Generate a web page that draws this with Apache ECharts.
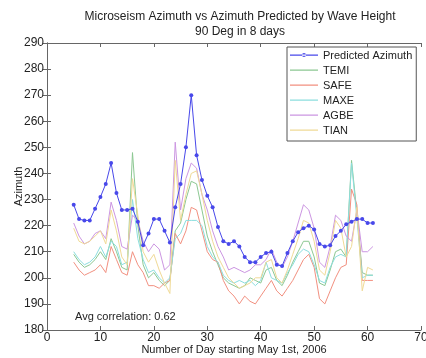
<!DOCTYPE html>
<html>
<head>
<meta charset="utf-8">
<script src="https://cdn.jsdelivr.net/npm/echarts@6/dist/echarts.min.js"></script>
<style>
	html, body {margin: 0; padding: 0; background: #fff;}
	#chart {width: 426px; height: 358px;}
</style>
</head>
<body>
<div id="chart"></div>
<script>
// days 5..61
const days = [];
for (let d = 5; d <= 61; d++) days.push(d);

const predicted = [228, 222.5, 222, 222, 226.5, 231, 236, 244, 232.5, 226, 226, 226.5, 221.5, 212.5, 217, 222.5, 222.5, 218, 213.5, 227,
	236, 250, 270, 247, 237.5, 231.5, 227, 219.5, 214, 213, 214, 212, 208, 206, 206, 208, 209.5, 210, 205, 204.5,
	209.5, 214, 217.5, 219, 220, 218.5, 213, 212, 212.5, 216, 218, 220.5, 221.5, 222.5, 222.5, 221, 221];

const temi = [209, 206, 204, 205, 207, 210, 207, 215, 210, 204, 203, 248, 220, 205, 200, 202, 199, 197, 199, 218,
	221, 230, 237, 236, 226, 216, 210, 205, 200, 198, 197, 196, 197, 200, 199, 198, 203, 204, 199, 197,
	201, 206, 210, 214, 214, 208, 198, 197, 203, 210, 211, 208, 245, 225, 202, 201, 201];

const safe = [206, 203, 201, 202, 203, 205, 202, 212, 207, 202, 201, 210, 205, 202, 197, 197, 196, 198, 199, 217,
	213, 218, 227, 226, 218, 210, 207, 206, 199, 195, 193, 190, 193, 191, 190, 193, 196, 199, 195, 193,
	196, 199, 203, 207, 209, 204, 192, 190, 195, 200, 204, 205, 234, 228, 199, 199, 199];

const maxe = [210, 207, 205, 206, 208, 212, 208, 214, 212, 205, 206, 230, 215, 207, 202, 203, 200, 198, 200, 215,
	217, 222, 222, 222, 220, 212, 208, 206, 201, 199, 198, 199, 198, 199, 197, 199, 206, 200, 199, 198,
	202, 205, 209, 211, 210, 205, 199, 198, 204, 208, 209, 208, 244, 223, 200, 201, 201];

const agbe = [221, 216, 213, 214, 217, 218, 215, 229, 222, 212, 211, 224, 222, 214, 210, 213, 211, 203, 205, 252,
	226, 238, 244, 242, 232, 226, 218, 212, 208, 203, 204, 203, 202, 203, 205, 205, 207, 211, 206, 204,
	208, 214, 221, 228, 226, 219, 206, 204, 212, 224, 222, 216, 214, 226, 210, 210, 212];

const tian = [219, 214, 213, 214, 216, 218, 213, 226, 218, 208, 205, 238, 224, 210, 206, 209, 203, 198, 194, 245,
	222, 232, 240, 241, 232, 222, 214, 208, 204, 200, 198, 196, 197, 198, 200, 200, 206, 207, 200, 198,
	203, 209, 215, 222, 221, 214, 203, 201, 210, 222, 219, 208, 212, 227, 195, 204, 203];

const stations = [
	{name: 'TEMI', data: temi, color: '#8cc892'},
	{name: 'SAFE', data: safe, color: '#f29080'},
	{name: 'MAXE', data: maxe, color: '#8cdede'},
	{name: 'AGBE', data: agbe, color: '#cc96e2'},
	{name: 'TIAN', data: tian, color: '#f0da96'},
];

const font = 'Liberation Sans, Arial, sans-serif';
const axisLine = {show: true, lineStyle: {color: '#666', width: 1}};
const tick = {show: true, inside: true, length: 4, lineStyle: {color: '#666'}};

// thin legend line; the tiny bar at x=0 keeps the box 28x10 so the line is not stretched
const lineIcon = 'path://M0,4 H28 V5.2 H0 Z M0,0 H0.02 V10 H0 Z';
const dotIcon = 'path://M0,4 H28 V5.2 H0 Z M12,4.6 A2,2 0 1,0 16,4.6 A2,2 0 1,0 12,4.6 Z M0,0 H0.02 V10 H0 Z';

const chart = echarts.init(document.getElementById('chart'));

const series = [
	{
		name: 'Predicted Azimuth',
		type: 'line',
		data: days.map((d, i) => [d, predicted[i]]),
		color: '#4848ea',
		lineStyle: {width: 1},
		symbol: 'circle',
		symbolSize: 4,
		z: 10,
	},
	...stations.map(s => ({
		name: s.name,
		type: 'line',
		data: days.map((d, i) => [d, s.data[i]]),
		color: s.color,
		lineStyle: {width: 1},
		symbol: 'none',
	})),
];

chart.setOption({
	backgroundColor: '#fff',
	animation: false,
	textStyle: {fontFamily: font},
	title: {
		text: 'Microseism Azimuth vs Azimuth Predicted by Wave Height\n90 Deg in 8 days',
		left: 235,
		textAlign: 'center',
		top: 4,
		textStyle: {fontSize: 12, fontWeight: 'normal', color: '#222', lineHeight: 15, fontFamily: font},
	},
	legend: {
		orient: 'vertical',
		left: 287,
		top: 47,
		padding: [3, 4, 5, 3],
		itemGap: 4,
		itemWidth: 28,
		itemHeight: 10,
		backgroundColor: '#fff',
		borderColor: '#555',
		borderWidth: 1,
		borderRadius: 0,
		textStyle: {fontSize: 11, color: '#222', fontFamily: font},
		data: [
			{name: 'Predicted Azimuth', icon: dotIcon},
			...stations.map(s => ({name: s.name, icon: lineIcon})),
		],
	},
	grid: {left: 47, right: 5, top: 43, bottom: 28, outerBoundsMode: 'none'},
	xAxis: [
		{
			type: 'value', min: 0, max: 70, interval: 10,
			name: 'Number of Day starting May 1st, 2006',
			nameLocation: 'middle', nameGap: 14, nameMoveOverlap: false,
			nameTextStyle: {fontSize: 11, color: '#222'},
			axisLine, axisTick: tick,
			axisLabel: {fontSize: 12, color: '#222', margin: 2},
			splitLine: {show: false},
		},
		{
			type: 'value', min: 0, max: 70, interval: 10, position: 'top',
			axisLine, axisTick: tick, axisLabel: {show: false}, splitLine: {show: false},
		},
	],
	yAxis: [
		{
			type: 'value', min: 180, max: 290, interval: 10,
			name: 'Azimuth',
			nameLocation: 'middle', nameGap: 23, nameMoveOverlap: false,
			nameTextStyle: {fontSize: 11, color: '#222'},
			axisLine, axisTick: tick,
			axisLabel: {fontSize: 12, color: '#222', margin: 3},
			splitLine: {show: false},
		},
		{
			type: 'value', min: 180, max: 290, interval: 10, position: 'right',
			axisLine, axisTick: tick, axisLabel: {show: false}, splitLine: {show: false},
		},
	],
	graphic: [
		{
			type: 'text',
			left: 75,
			top: 311,
			style: {text: 'Avg correlation: 0.62', fontSize: 11, fill: '#222', fontFamily: font},
		},
	],
	series,
});
</script>
</body>
</html>
